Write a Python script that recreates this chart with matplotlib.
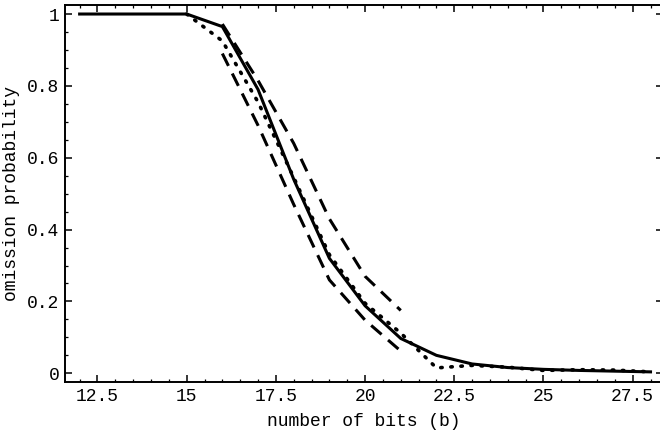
import matplotlib
matplotlib.use("Agg")
import matplotlib.pyplot as plt
from matplotlib.ticker import MultipleLocator, FuncFormatter

# ---- data ----
bits_solid = [12, 13, 14, 15, 16, 17, 18, 19, 20, 21, 22, 23, 24, 25, 26, 27, 28]
p_solid = [1.0, 1.0, 1.0, 1.0, 0.965, 0.79, 0.54, 0.32, 0.188, 0.097, 0.05,
           0.026, 0.016, 0.011, 0.008, 0.006, 0.004]

bits_dotted = [15, 16, 17, 18, 19, 20, 21, 22, 23, 24, 25, 26, 27, 28]
p_dotted = [1.0, 0.925, 0.755, 0.545, 0.33, 0.195, 0.112, 0.015, 0.022,
            0.017, 0.008, 0.010, 0.009, 0.004]

bits_band = [16, 17, 18, 19, 20, 21]
p_upper = [0.972, 0.815, 0.64, 0.43, 0.27, 0.175]
p_lower = [0.89, 0.69, 0.47, 0.26, 0.148, 0.062]

x_major = [12.5, 15, 17.5, 20, 22.5, 25, 27.5]
y_major = [0, 0.2, 0.4, 0.6, 0.8, 1.0]

xlabel = "number of bits (b)"
ylabel = "omission probability"

# ---- figure ----
plt.rcParams['font.family'] = ['Liberation Mono', 'DejaVu Sans Mono']
fig = plt.figure(figsize=(6.6, 4.36), dpi=100)
ax = fig.add_axes([65 / 660, (436 - 382) / 436, (663 - 65) / 660, (382 - 5) / 436])

ax.plot(bits_solid, p_solid, color='black', lw=2.2, solid_joinstyle='miter')
ax.plot(bits_dotted, p_dotted, color='black', lw=2.6, linestyle=(0, (0.4, 2.4)),
        dash_capstyle='round')
ax.plot(bits_band, p_upper, color='black', lw=2.2, linestyle=(0, (4.5, 2.8)))
ax.plot(bits_band, p_lower, color='black', lw=2.2, linestyle=(0, (4.5, 2.8)))

ax.set_xlim(11.59, 28.35)
ax.set_ylim(-0.0242, 1.0251)

ax.xaxis.set_minor_locator(MultipleLocator(0.5))
ax.yaxis.set_minor_locator(MultipleLocator(0.05))
ax.set_xticks(x_major)
ax.set_yticks(y_major)


def fmt(v, pos):
    s = ('%.2f' % v).rstrip('0').rstrip('.')
    return s


ax.xaxis.set_major_formatter(FuncFormatter(fmt))
ax.yaxis.set_major_formatter(FuncFormatter(fmt))

ax.tick_params(which='both', direction='in', top=True, right=True, colors='black',
               labelsize=13, pad=4)
ax.tick_params(which='major', length=5, width=1.1)
ax.tick_params(which='minor', length=2.5, width=0.9)

for sp in ax.spines.values():
    sp.set_linewidth(1.4)
ax.spines['right'].set_visible(False)

ax.set_xlabel(xlabel, fontsize=13, labelpad=6)
ax.set_ylabel(ylabel, fontsize=13, labelpad=5)

fig.savefig("out.png", dpi=100)
